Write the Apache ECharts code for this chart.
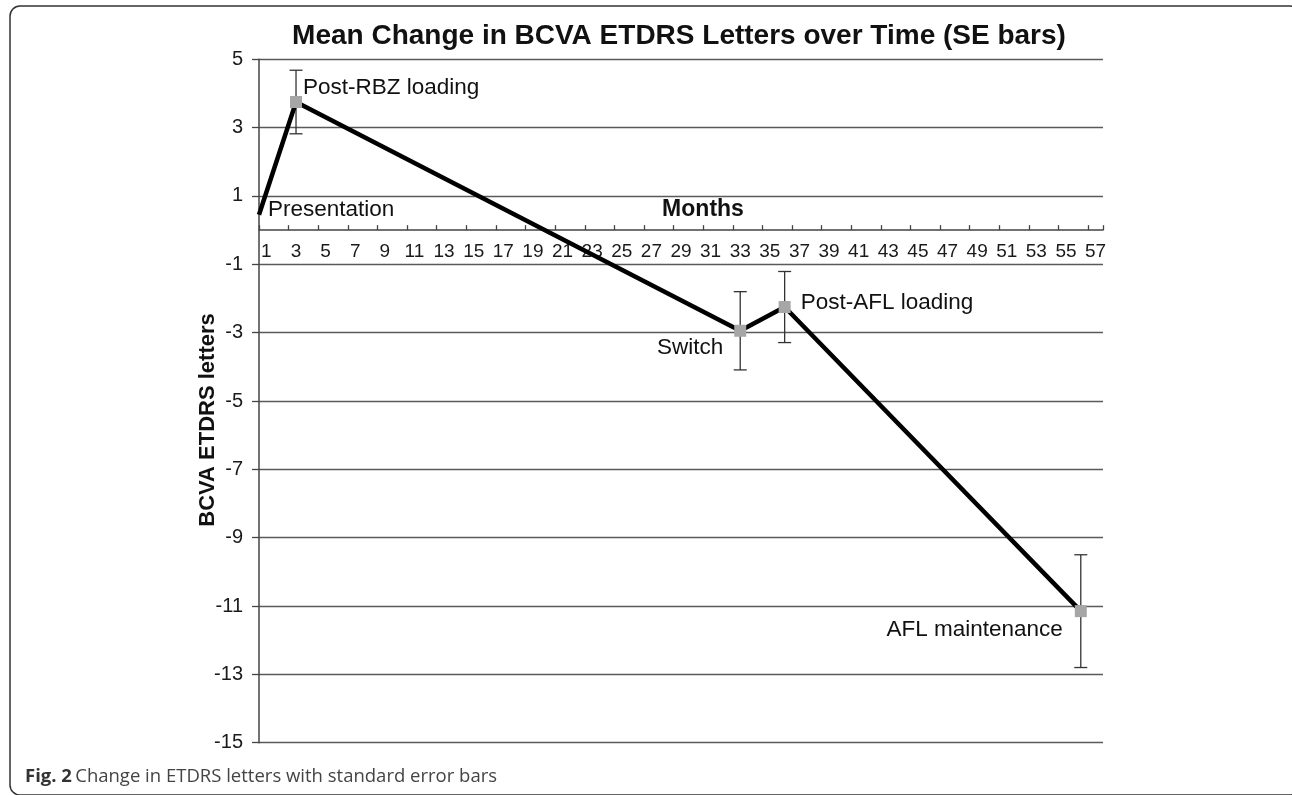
<!DOCTYPE html>
<html>
<head>
<meta charset="utf-8">
<style>
  html, body { margin: 0; padding: 0; background: #fff; }
  #chart { width: 1292px; height: 795px; }
</style>
<script src="https://cdn.jsdelivr.net/npm/echarts@6/dist/echarts.min.js"></script>
</head>
<body>
<div id="chart"></div>
<script>
// ---- data ----
var monthCategories = [];
for (var m = 1; m <= 57; m++) monthCategories.push(String(m));
var yTicks = [-15, -13, -11, -9, -7, -5, -3, -1, 1, 3, 5];
var pointMonths = [0.5, 3, 33, 36, 56];
var pointMeans = [0.45, 3.75, -2.945, -2.25, -11.15];
var pointSE = [null, 0.93, 1.145, 1.04, 1.65];
var pointLabels = ['Presentation', 'Post-RBZ loading', 'Switch', 'Post-AFL loading', 'AFL maintenance'];
var titleText = 'Mean Change in BCVA ETDRS Letters over Time (SE bars)';
var xAxisTitle = 'Months';
var yAxisTitle = 'BCVA ETDRS letters';
var captionBold = 'Fig. 2';
var captionText = 'Change in ETDRS letters with standard error bars';

// ---- layout / style (not data) ----
var FONT = "'Liberation Sans', Arial, Helvetica, sans-serif";
var GRID_TOP = 59.3, GRID_BOTTOM = 52.3, CHART_H = 795;
var labelLayout = [
  { dx: 9, dy: -5, align: 'left' },
  { dx: 7, dy: -14, align: 'left' },
  { dx: -17, dy: 17, align: 'right' },
  { dx: 16, dy: -4, align: 'left' },
  { dx: -18, dy: 19, align: 'right' }
];
// x axis sits at y = 0: shift it up from the grid bottom by the pixel distance of 0 from the min
var yMin = yTicks[0], yMax = yTicks[yTicks.length - 1];
var plotH = CHART_H - GRID_TOP - GRID_BOTTOM;
var zeroOffset = -plotH * (0 - yMin) / (yMax - yMin);

var lineData = pointMonths.map(function (mo, i) {
  var item = { value: [mo, pointMeans[i]] };
  if (pointSE[i] == null) item.symbol = 'none';
  return item;
});
var errData = [];
pointMonths.forEach(function (mo, i) {
  if (pointSE[i] != null) errData.push([mo, pointMeans[i] - pointSE[i], pointMeans[i] + pointSE[i]]);
});
var labelData = pointMonths.map(function (mo, i) { return [mo, pointMeans[i], i]; });

var chart = echarts.init(document.getElementById('chart'), null, { renderer: 'canvas' });

var option = {
  backgroundColor: '#ffffff',
  animation: false,
  grid: { left: 259, right: 189, top: GRID_TOP, bottom: GRID_BOTTOM, containLabel: false },
  xAxis: [
    {
      type: 'category',
      data: monthCategories,
      boundaryGap: true,
      position: 'bottom',
      offset: zeroOffset,
      axisLine: { show: true, onZero: false, lineStyle: { color: '#444', width: 1.5 } },
      axisTick: { show: true, inside: true, length: 5, interval: 1, lineStyle: { color: '#444', width: 1.3 } },
      axisLabel: { show: true, interval: 1, margin: 12, fontFamily: FONT, fontSize: 19, color: '#1a1a1a' },
      splitLine: { show: false }
    },
    {
      type: 'value',
      min: 0.5,
      max: 57.5,
      show: false,
      splitLine: { show: false }
    }
  ],
  yAxis: {
    type: 'value',
    min: yMin,
    max: yMax,
    interval: 2,
    axisLine: { show: true, lineStyle: { color: '#444', width: 1.5 } },
    axisTick: { show: true, inside: false, length: 7, lineStyle: { color: '#444', width: 1.3 } },
    axisLabel: { margin: 16, fontFamily: FONT, fontSize: 20, color: '#1a1a1a' },
    splitLine: { show: true, lineStyle: { color: '#5a5a5a', width: 1.3 } }
  },
  series: [
    {
      type: 'custom',
      name: 'SE',
      xAxisIndex: 1,
      z: 2,
      data: errData,
      renderItem: function (params, api) {
        var x = api.value(0);
        var lo = api.coord([x, api.value(1)]);
        var hi = api.coord([x, api.value(2)]);
        var w = 6.5;
        var st = { stroke: '#333', lineWidth: 1.3 };
        return {
          type: 'group',
          children: [
            { type: 'line', shape: { x1: hi[0], y1: hi[1], x2: lo[0], y2: lo[1] }, style: st },
            { type: 'line', shape: { x1: hi[0] - w, y1: hi[1], x2: hi[0] + w, y2: hi[1] }, style: st },
            { type: 'line', shape: { x1: lo[0] - w, y1: lo[1], x2: lo[0] + w, y2: lo[1] }, style: st }
          ]
        };
      }
    },
    {
      type: 'line',
      name: 'Mean change',
      xAxisIndex: 1,
      z: 3,
      data: lineData,
      symbol: 'rect',
      symbolSize: 12,
      showAllSymbol: true,
      lineStyle: { color: '#000', width: 4.5 },
      itemStyle: { color: '#a6a6a6', borderWidth: 0 },
      label: { show: false }
    },
    {
      type: 'custom',
      name: 'labels',
      xAxisIndex: 1,
      z: 4,
      data: labelData,
      renderItem: function (params, api) {
        var p = api.coord([api.value(0), api.value(1)]);
        var i = api.value(2);
        var L = labelLayout[i];
        return {
          type: 'text',
          x: p[0] + L.dx,
          y: p[1] + L.dy,
          style: {
            text: pointLabels[i],
            font: '22.5px ' + FONT,
            fill: '#111',
            textAlign: L.align,
            textVerticalAlign: 'middle'
          }
        };
      }
    }
  ],
  graphic: [
    {
      type: 'rect',
      shape: { x: 10, y: 6, width: 1290, height: 789, r: 10 },
      style: { fill: 'none', stroke: '#333', lineWidth: 1.5 },
      z: -1,
      silent: true
    },
    {
      type: 'text',
      x: 679, y: 36,
      style: { text: titleText, font: 'bold 28px ' + FONT, fill: '#111', textAlign: 'center', textVerticalAlign: 'middle' }
    },
    {
      type: 'text',
      x: 703, y: 210,
      style: { text: xAxisTitle, font: 'bold 23px ' + FONT, fill: '#111', textAlign: 'center', textVerticalAlign: 'middle' }
    },
    {
      type: 'text',
      x: 208, y: 420,
      rotation: Math.PI / 2,
      style: { text: yAxisTitle, font: 'bold 22px ' + FONT, fill: '#111', textAlign: 'center', textVerticalAlign: 'middle' }
    },
    {
      type: 'text',
      x: 25, y: 777,
      style: {
        text: '{b|' + captionBold + '} {r|' + captionText + '}',
        textVerticalAlign: 'middle',
        rich: {
          b: { font: "bold 18.5px 'Open Sans', sans-serif", fill: '#333' },
          r: { font: "18.5px 'Open Sans', sans-serif", fill: '#444' }
        }
      }
    }
  ]
};
chart.setOption(option);
</script>
</body>
</html>
